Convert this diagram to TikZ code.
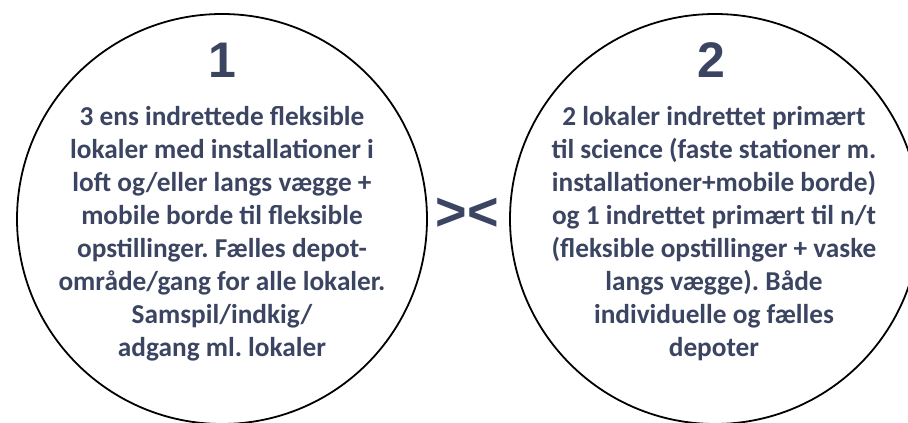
\documentclass[tikz,border=0pt]{standalone}
\usepackage{fontspec}
\setmainfont{Carlito}
\newfontfamily\numfont{Liberation Sans}
\usepackage{color}
\definecolor{navy}{RGB}{59,69,98}
\frenchspacing

\begin{document}
\begin{tikzpicture}[x=1pt,y=1pt,thick]
\tikzset{
  ring/.style={draw=black,line width=1.8pt,circle,minimum size=410pt,inner sep=0pt},
  bignum/.style={text=navy,font=\numfont\bfseries\fontsize{50}{50}\selectfont,anchor=base},
  blurb/.style={text=navy,font=\bfseries\fontsize{27.3}{33}\selectfont,align=center,anchor=base}
}
\useasboundingbox (0,0) rectangle (908,423);
\clip (0,0) rectangle (908,423);

% circle 1 = (222,204)
\coordinate (C1) at (222,204);
\node[ring] (one) at (C1) {};
\node[bignum] (num1) at (222,345) {1};
\node[blurb] (txt1) at (222,66) {3 ens indrettede fleksible\\
lokaler med installationer i\\
loft og/eller langs vægge +\\
mobile borde til fleksible\\
opstillinger. Fælles depot-\\
område/gang for alle lokaler.\\
Samspil/indkig/\\
adgang ml. lokaler};

% circle 2 = (715,204)
\coordinate (C2) at (715,204);
\node[ring] (two) at (C2) {};
\node[bignum] (num2) at (711,345) {2};
\node[blurb] (txt2) at (714,66) {2 lokaler indrettet primært\\
til science (faste stationer m.\\
installationer+mobile borde)\\
og 1 indrettet primært til n/t\\
(fleksible opstillinger + vaske\\
langs vægge). Både\\
individuelle og fælles\\
depoter};

% >< between the circles
\node[text=navy,font=\numfont\bfseries\fontsize{54}{54}\selectfont,inner sep=0pt] (vs) at (467,209) {>\kern0pt<};

\end{tikzpicture}
\end{document}
